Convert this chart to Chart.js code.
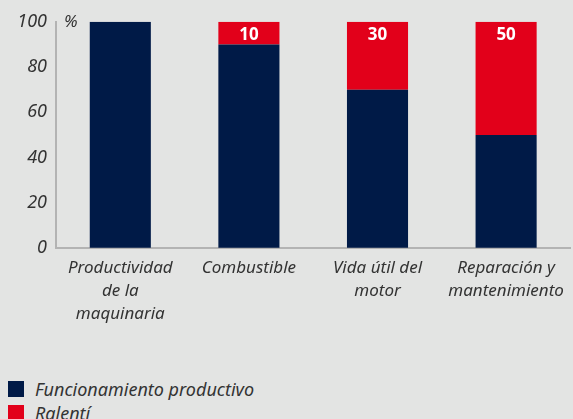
<!DOCTYPE html>
<html>
<head>
<meta charset="utf-8">
<script src="https://cdn.jsdelivr.net/npm/chart.js@4/dist/chart.umd.min.js"></script>
<style>
    body { margin: 0; background: #e3e4e3; width: 573px; height: 419px; overflow: hidden; position: relative; font-family: "Noto Sans", sans-serif; }
    #wrap { position: absolute; left: 0; top: 2px; width: 573px; height: 333px; }
    #legend { position: absolute; left: 8px; top: 377px; font-style: italic; font-size: 18px; color: #333; }
    .item { display: flex; align-items: center; height: 24px; }
    .box { width: 16px; height: 16px; margin-right: 11px; }
</style>
</head>
<body>
<div id="wrap"><canvas id="chart"></canvas></div>
<div id="legend"></div>
<script>
// --- data ---
const categories = [
    ['Productividad', 'de la', 'maquinaria'],
    ['Combustible'],
    ['Vida útil del', 'motor'],
    ['Reparación y', 'mantenimiento']
];
const productive = [100, 90, 70, 50];
const idle = [0, 10, 30, 50];
const seriesNames = ['Funcionamiento productivo', 'Ralentí'];
const seriesColors = ['#001a47', '#e2001a'];
const yTicks = [0, 20, 40, 60, 80, 100];

const textColor = '#333333';
const axisColor = '#b3b3b3';

// white value labels at the top of the red segments + the "%" unit
const labelPlugin = {
    id: 'labels',
    afterDatasetsDraw(chart) {
        const ctx = chart.ctx;
        const meta = chart.getDatasetMeta(1);
        ctx.save();
        ctx.fillStyle = '#ffffff';
        ctx.font = 'bold 17px "Noto Sans", sans-serif';
        ctx.textAlign = 'center';
        ctx.textBaseline = 'middle';
        meta.data.forEach((bar, i) => {
            if (!idle[i]) return;
            ctx.fillText(String(idle[i]), bar.x, bar.y + 13);
        });
        const yScale = chart.scales.y;
        ctx.fillStyle = textColor;
        ctx.font = 'italic 17px "Noto Sans", sans-serif';
        ctx.textAlign = 'left';
        ctx.fillText('%', chart.chartArea.left + 8, yScale.getPixelForValue(100));
        ctx.restore();
    }
};

const ctx = document.getElementById('chart').getContext('2d');
new Chart(ctx, {
    type: 'bar',
    data: {
        labels: categories,
        datasets: [
            { label: seriesNames[0], data: productive, backgroundColor: seriesColors[0] },
            { label: seriesNames[1], data: idle, backgroundColor: seriesColors[1] }
        ]
    },
    options: {
        responsive: true,
        maintainAspectRatio: false,
        animation: false,
        layout: { padding: { top: 16, right: 1, left: 0, bottom: 0 } },
        datasets: { bar: { barPercentage: 0.475, categoryPercentage: 1 } },
        plugins: {
            legend: { display: false },
            tooltip: { enabled: false }
        },
        scales: {
            x: {
                stacked: true,
                grid: { color: 'transparent', drawTicks: false },
                border: { display: true, color: axisColor, width: 2 },
                ticks: {
                    color: textColor,
                    maxRotation: 0,
                    autoSkip: false,
                    padding: 9,
                    font: { family: '"Noto Sans", sans-serif', size: 17, style: 'italic', lineHeight: 1.35 }
                }
            },
            y: {
                stacked: true,
                min: 0,
                max: 100,
                afterFit(scale) { scale.width = 56; },
                afterBuildTicks(scale) { scale.ticks = yTicks.map(v => ({ value: v })); },
                grid: { color: 'transparent', drawTicks: false },
                border: { display: true, color: axisColor, width: 2 },
                ticks: {
                    color: textColor,
                    padding: 9,
                    font: { family: '"Noto Sans", sans-serif', size: 18, style: 'italic' }
                }
            }
        }
    },
    plugins: [labelPlugin]
});

// legend built from the series
const legend = document.getElementById('legend');
seriesNames.forEach((name, i) => {
    const item = document.createElement('div');
    item.className = 'item';
    item.innerHTML = `<span class="box" style="background:${seriesColors[i]}"></span><span>${name}</span>`;
    legend.appendChild(item);
});
</script>
</body>
</html>
